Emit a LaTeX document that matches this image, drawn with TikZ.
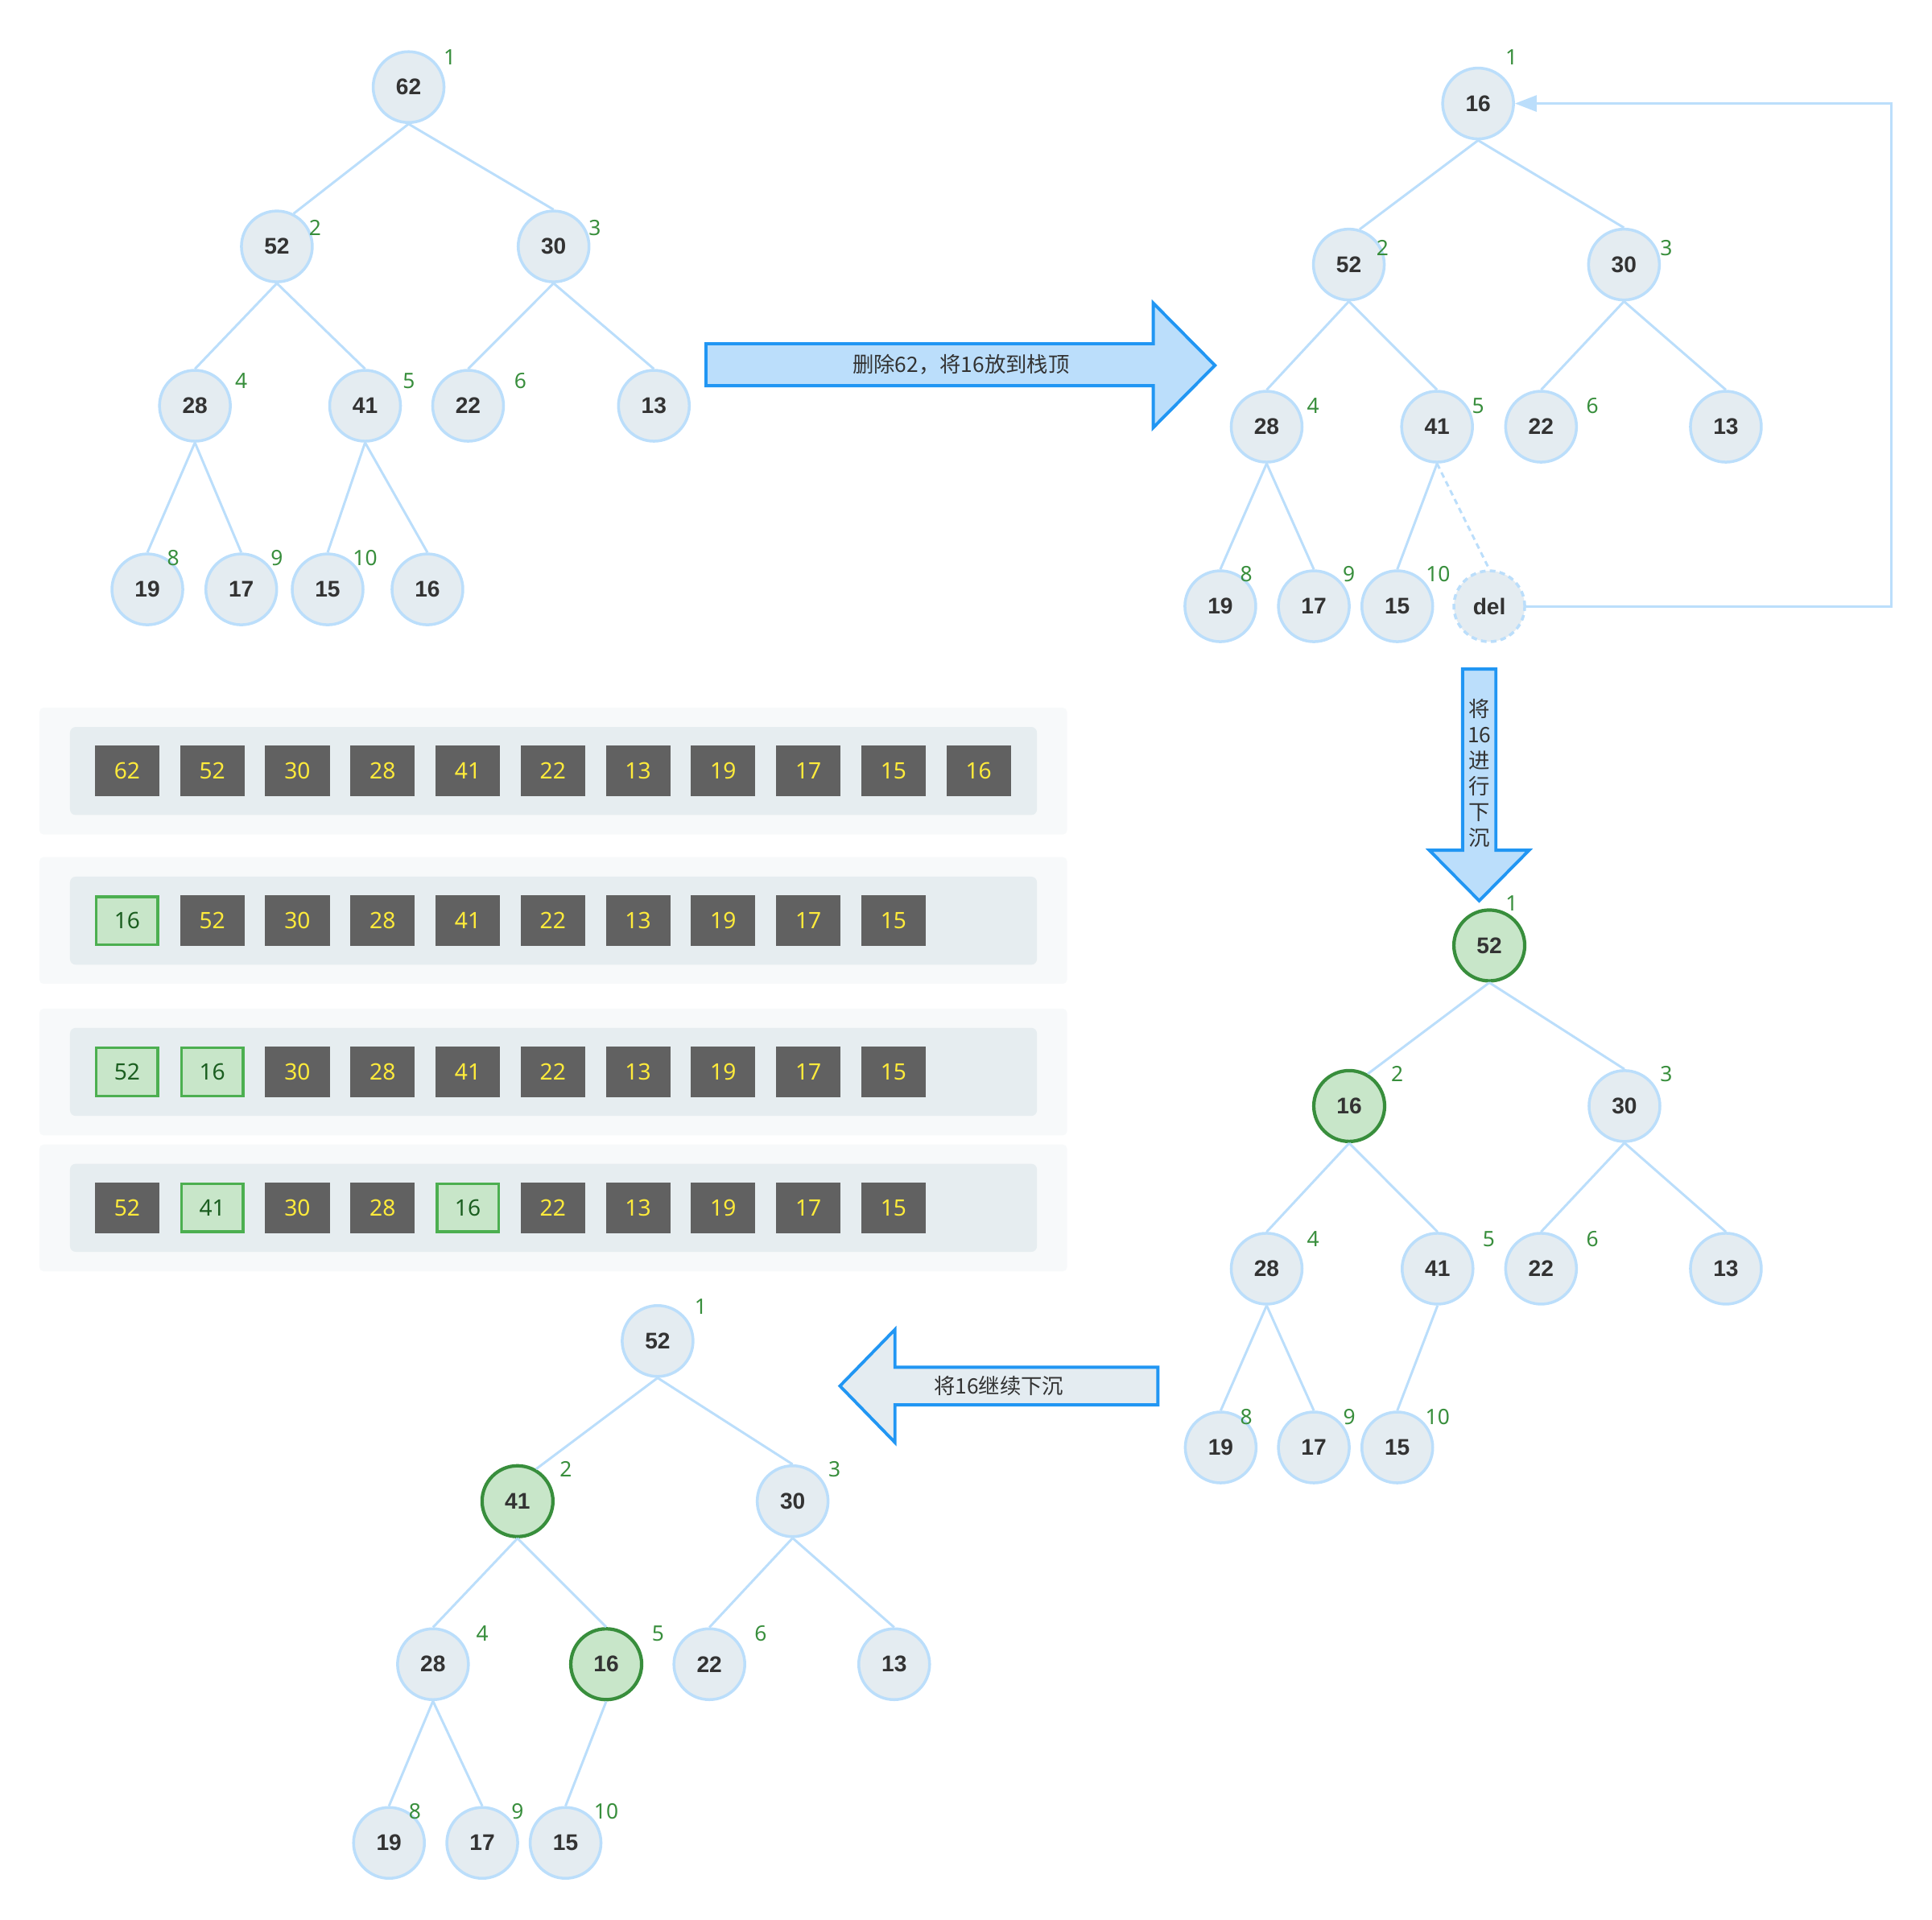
\documentclass[tikz,border=0pt]{standalone}
\usepackage{fontspec}
\setmainfont{Noto Sans}
\newfontfamily\numfont{Liberation Sans}
\newfontfamily\cjk{Noto Sans CJK SC}
\usepackage{tikz}
\usetikzlibrary{arrows.meta}

\definecolor{nodefill}{HTML}{E4ECF1}
\definecolor{nodeline}{HTML}{BBDEFB}
\definecolor{darktext}{HTML}{333333}
\definecolor{hotfill}{HTML}{C8E6C9}
\definecolor{hotline}{HTML}{388E3C}
\definecolor{idxgreen}{HTML}{388E3C}
\definecolor{cellgrey}{HTML}{616161}
\definecolor{cellyellow}{HTML}{FFEB3B}
\definecolor{cellline}{HTML}{4CAF50}
\definecolor{celltext}{HTML}{1B5E20}
\definecolor{panelout}{HTML}{F7F9FA}
\definecolor{panelin}{HTML}{E6EDF0}
\definecolor{arrowfill}{HTML}{BBDEFB}
\definecolor{arrowgrey}{HTML}{E4ECF1}
\definecolor{arrowline}{HTML}{2196F3}

\begin{document}
\begin{tikzpicture}[x=0.015306cm,y=-0.015306cm]
	\tikzstyle{hnode}=[circle,draw=nodeline,line width=1pt,fill=nodefill,minimum size=0.88cm,inner sep=0pt,text=darktext,font=\numfont\fontsize{8}{9.6}\selectfont\bfseries]
	\tikzstyle{hot}=[hnode,draw=hotline,line width=1.2pt,fill=hotfill]
	\tikzstyle{gone}=[hnode,dash pattern=on 2pt off 1.5pt]
	\tikzstyle{idx}=[text=idxgreen,inner sep=0pt,font=\fontsize{7.5}{9}\selectfont]
	\tikzstyle{link}=[draw=nodeline,line width=0.85pt]
	\tikzstyle{cell}=[rectangle,fill=cellgrey,text=cellyellow,minimum width=0.8cm,minimum height=0.632cm,inner sep=0pt,font=\fontsize{8}{9.6}\selectfont]
	\tikzstyle{hotcell}=[cell,draw=cellline,line width=1pt,fill=hotfill,text=celltext,minimum width=0.765cm,minimum height=0.597cm]
	\tikzstyle{outerpanel}=[rectangle,rounded corners=1.5pt,fill=panelout,minimum width=12.765cm,minimum height=1.576cm,inner sep=0pt]
	\tikzstyle{innerpanel}=[rectangle,rounded corners=2pt,fill=panelin,minimum width=12.01cm,minimum height=1.094cm,inner sep=0pt]
	\tikzstyle{bigarrow}=[draw=arrowline,line width=1.1pt,fill=arrowfill,line join=miter]
	\tikzstyle{arrowtext}=[text=darktext,inner sep=0pt,font=\cjk\fontsize{7.5}{9.1}\selectfont]
	\tikzstyle{back}=[draw=nodeline,line width=0.85pt,-{Triangle[length=0.27cm,width=0.2cm]}]
	\useasboundingbox (0,0) rectangle (1568,1557.6);
	% tree before the delete
	\node (a1)  at (331.6,70.7)  [hnode] {62};
	\node (a2)  at (224.7,200)   [hnode] {52};
	\node (a3)  at (449.3,200)   [hnode] {30};
	\node (a4)  at (158.2,329.3) [hnode] {28};
	\node (a5)  at (296.3,329.3) [hnode] {41};
	\node (a6)  at (379.9,329.3) [hnode] {22};
	\node (a7)  at (530.7,329.3) [hnode] {13};
	\node (a8)  at (119.6,478.3) [hnode] {19};
	\node (a9)  at (195.8,478.3) [hnode] {17};
	\node (a10) at (265.9,478.3) [hnode] {15};
	\node (a11) at (346.9,478.3) [hnode] {16};
	\node (a1n)  at (365,46.7)    [idx] {1};
	\node (a2n)  at (255.8,185)   [idx] {2};
	\node (a3n)  at (482.7,185)   [idx] {3};
	\node (a4n)  at (195.8,309.3) [idx] {4};
	\node (a5n)  at (331.9,309.3) [idx] {5};
	\node (a6n)  at (422.3,309.3) [idx] {6};
	\node (a8n)  at (140.6,452.7) [idx] {8};
	\node (a9n)  at (224.7,452.7) [idx] {9};
	\node (a10n) at (296.3,452.7) [idx] {10};
	\draw [link] (a1.south) -- (a2.63);
	\draw [link] (a1.south) -- (a3.north);
	\draw [link] (a2.south) -- (a4.north);
	\draw [link] (a2.south) -- (a5.north);
	\draw [link] (a3.south) -- (a6.north);
	\draw [link] (a3.south) -- (a7.north);
	\draw [link] (a4.south) -- (a8.north);
	\draw [link] (a4.south) -- (a9.north);
	\draw [link] (a5.south) -- (a10.north);
	\draw [link] (a5.south) -- (a11.north);
	% last one moved to the top
	\node (b1)  at (1199.6,84)    [hnode] {16};
	\node (b2)  at (1094.7,214.7) [hnode] {52};
	\node (b3)  at (1318,214.7)   [hnode] {30};
	\node (b4)  at (1028,346.3)   [hnode] {28};
	\node (b5)  at (1166.3,346.3) [hnode] {41};
	\node (b6)  at (1250.7,346.3) [hnode] {22};
	\node (b7)  at (1400.7,346.3) [hnode] {13};
	\node (b8)  at (990.4,492)    [hnode] {19};
	\node (b9)  at (1066.3,492)   [hnode] {17};
	\node (b10) at (1134,492)     [hnode] {15};
	\node (b11) at (1208.7,492)   [gone]  {del};
	\node (b1n)  at (1226.7,46.7)  [idx] {1};
	\node (b2n)  at (1122,201)     [idx] {2};
	\node (b3n)  at (1352.4,201)   [idx] {3};
	\node (b4n)  at (1065.6,329.5) [idx] {4};
	\node (b5n)  at (1199.6,329.5) [idx] {5};
	\node (b6n)  at (1292.3,329.5) [idx] {6};
	\node (b8n)  at (1011.5,465.6) [idx] {8};
	\node (b9n)  at (1094.7,465.6) [idx] {9};
	\node (b10n) at (1167.1,465.6) [idx] {10};
	\draw [link] (b1.south) -- (b2.73);
	\draw [link] (b1.south) -- (b3.north);
	\draw [link] (b2.south) -- (b4.north);
	\draw [link] (b2.south) -- (b5.north);
	\draw [link] (b3.south) -- (b6.north);
	\draw [link] (b3.south) -- (b7.north);
	\draw [link] (b4.south) -- (b8.north);
	\draw [link] (b4.south) -- (b9.north);
	\draw [link] (b5.south) -- (b10.north);
	\draw [link,dash pattern=on 2pt off 1.5pt] (b5.south) -- (b11.north);
	\coordinate (bend) at (1535,492);
	\draw [back] (b11.east) -- (bend) |- (b1.east);
	% first sift down step
	\node (c1)  at (1208.7,767.3)  [hot]   {52};
	\node (c2)  at (1095,897.6)    [hot]   {16};
	\node (c3)  at (1318.4,897.6)  [hnode] {30};
	\node (c4)  at (1028,1029.6)   [hnode] {28};
	\node (c5)  at (1166.7,1029.6) [hnode] {41};
	\node (c6)  at (1250.7,1029.6) [hnode] {22};
	\node (c7)  at (1400.7,1029.6) [hnode] {13};
	\node (c8)  at (990.7,1174.7)  [hnode] {19};
	\node (c9)  at (1066.3,1174.7) [hnode] {17};
	\node (c10) at (1134,1174.7)   [hnode] {15};
	\node (c1n)  at (1226.9,733)    [idx] {1};
	\node (c2n)  at (1134,871.4)    [idx] {2};
	\node (c3n)  at (1352.4,871.4)  [idx] {3};
	\node (c4n)  at (1065.6,1005.8) [idx] {4};
	\node (c5n)  at (1208.3,1005.8) [idx] {5};
	\node (c6n)  at (1292.3,1005.8) [idx] {6};
	\node (c8n)  at (1011.4,1149.7) [idx] {8};
	\node (c9n)  at (1095,1149.7)   [idx] {9};
	\node (c10n) at (1166.7,1149.7) [idx] {10};
	\draw [link] (c1.south) -- (c2.60);
	\draw [link] (c1.south) -- (c3.north);
	\draw [link] (c2.south) -- (c4.north);
	\draw [link] (c2.south) -- (c5.north);
	\draw [link] (c3.south) -- (c6.north);
	\draw [link] (c3.south) -- (c7.north);
	\draw [link] (c4.south) -- (c8.north);
	\draw [link] (c4.south) -- (c9.north);
	\draw [link] (c5.south) -- (c10.north);
	% second sift down step
	\node (d1)  at (533.7,1088.3) [hnode] {52};
	\node (d2)  at (420,1218.3)   [hot]   {41};
	\node (d3)  at (643.3,1218.3) [hnode] {30};
	\node (d4)  at (351.4,1350.6) [hnode] {28};
	\node (d5)  at (492,1350.6)   [hot]   {16};
	\node (d6)  at (575.7,1350.6) [hnode] {22};
	\node (d7)  at (725.7,1350.6) [hnode] {13};
	\node (d8)  at (315.7,1495.6) [hnode] {19};
	\node (d9)  at (391.4,1495.6) [hnode] {17};
	\node (d10) at (459,1495.6)   [hnode] {15};
	\node (d1n)  at (568.7,1060.6) [idx] {1};
	\node (d2n)  at (459.3,1192.3) [idx] {2};
	\node (d3n)  at (677.3,1192.3) [idx] {3};
	\node (d4n)  at (391.4,1325.6) [idx] {4};
	\node (d5n)  at (534,1325.6)   [idx] {5};
	\node (d6n)  at (617.3,1325.6) [idx] {6};
	\node (d8n)  at (336.7,1470)   [idx] {8};
	\node (d9n)  at (420,1470)     [idx] {9};
	\node (d10n) at (492,1470)     [idx] {10};
	\draw [link] (d1.south) -- (d2.60);
	\draw [link] (d1.south) -- (d3.north);
	\draw [link] (d2.south) -- (d4.north);
	\draw [link] (d2.south) -- (d5.north);
	\draw [link] (d3.south) -- (d6.north);
	\draw [link] (d3.south) -- (d7.north);
	\draw [link] (d4.south) -- (d8.north);
	\draw [link] (d4.south) -- (d9.north);
	\draw [link] (d5.south) -- (d10.north);
	% big arrows between the steps
	\draw [bigarrow] (573,279) -- (936,279) -- (936,246) -- (986,296.5) -- (936,347) -- (936,313) -- (573,313) -- cycle;
	\node (step1) at (780,296) [arrowtext] {删除62，将16放到栈顶};
	\draw [bigarrow] (1187,543) -- (1214,543) -- (1214,690) -- (1241,690) -- (1200.5,731) -- (1160,690) -- (1187,690) -- cycle;
	\node (step2) at (1200.8,627.5) [arrowtext,align=center] {将\\16\\进\\行\\下\\沉};
	\draw [bigarrow,fill=arrowgrey] (939.7,1109.6) -- (726.3,1109.6) -- (726.3,1079) -- (681.7,1124.8) -- (726.3,1170.6) -- (726.3,1140.1) -- (939.7,1140.1) -- cycle;
	\node (step3) at (810.5,1125) [arrowtext] {将16继续下沉};
	% array rows
	\node (p1o) at (449,625.8)   [outerpanel] {};
	\node (p1i) at (449.2,625.7) [innerpanel] {};
	\node (p2o) at (449,747)     [outerpanel] {};
	\node (p2i) at (449.2,747.2) [innerpanel] {};
	\node (p3o) at (449,870)     [outerpanel] {};
	\node (p3i) at (449.2,869.9) [innerpanel] {};
	\node (p4o) at (449,980.3)   [outerpanel] {};
	\node (p4i) at (449.2,980.2) [innerpanel] {};
	\node (r1c1)  at (103.2,625.7) [cell] {62};
	\node (r1c2)  at (172.3,625.7) [cell] {52};
	\node (r1c3)  at (241.4,625.7) [cell] {30};
	\node (r1c4)  at (310.5,625.7) [cell] {28};
	\node (r1c5)  at (379.6,625.7) [cell] {41};
	\node (r1c6)  at (448.7,625.7) [cell] {22};
	\node (r1c7)  at (517.8,625.7) [cell] {13};
	\node (r1c8)  at (586.9,625.7) [cell] {19};
	\node (r1c9)  at (656.0,625.7) [cell] {17};
	\node (r1c10) at (725.1,625.7) [cell] {15};
	\node (r1c11) at (794.2,625.7) [cell] {16};
	\node (r2c1)  at (103.2,747.2) [hotcell] {16};
	\node (r2c2)  at (172.3,747.2) [cell] {52};
	\node (r2c3)  at (241.4,747.2) [cell] {30};
	\node (r2c4)  at (310.5,747.2) [cell] {28};
	\node (r2c5)  at (379.6,747.2) [cell] {41};
	\node (r2c6)  at (448.7,747.2) [cell] {22};
	\node (r2c7)  at (517.8,747.2) [cell] {13};
	\node (r2c8)  at (586.9,747.2) [cell] {19};
	\node (r2c9)  at (656.0,747.2) [cell] {17};
	\node (r2c10) at (725.1,747.2) [cell] {15};
	\node (r3c1)  at (103.2,869.9) [hotcell] {52};
	\node (r3c2)  at (172.3,869.9) [hotcell] {16};
	\node (r3c3)  at (241.4,869.9) [cell] {30};
	\node (r3c4)  at (310.5,869.9) [cell] {28};
	\node (r3c5)  at (379.6,869.9) [cell] {41};
	\node (r3c6)  at (448.7,869.9) [cell] {22};
	\node (r3c7)  at (517.8,869.9) [cell] {13};
	\node (r3c8)  at (586.9,869.9) [cell] {19};
	\node (r3c9)  at (656.0,869.9) [cell] {17};
	\node (r3c10) at (725.1,869.9) [cell] {15};
	\node (r4c1)  at (103.2,980.2) [cell] {52};
	\node (r4c2)  at (172.3,980.2) [hotcell] {41};
	\node (r4c3)  at (241.4,980.2) [cell] {30};
	\node (r4c4)  at (310.5,980.2) [cell] {28};
	\node (r4c5)  at (379.6,980.2) [hotcell] {16};
	\node (r4c6)  at (448.7,980.2) [cell] {22};
	\node (r4c7)  at (517.8,980.2) [cell] {13};
	\node (r4c8)  at (586.9,980.2) [cell] {19};
	\node (r4c9)  at (656.0,980.2) [cell] {17};
	\node (r4c10) at (725.1,980.2) [cell] {15};
\end{tikzpicture}
\end{document}
